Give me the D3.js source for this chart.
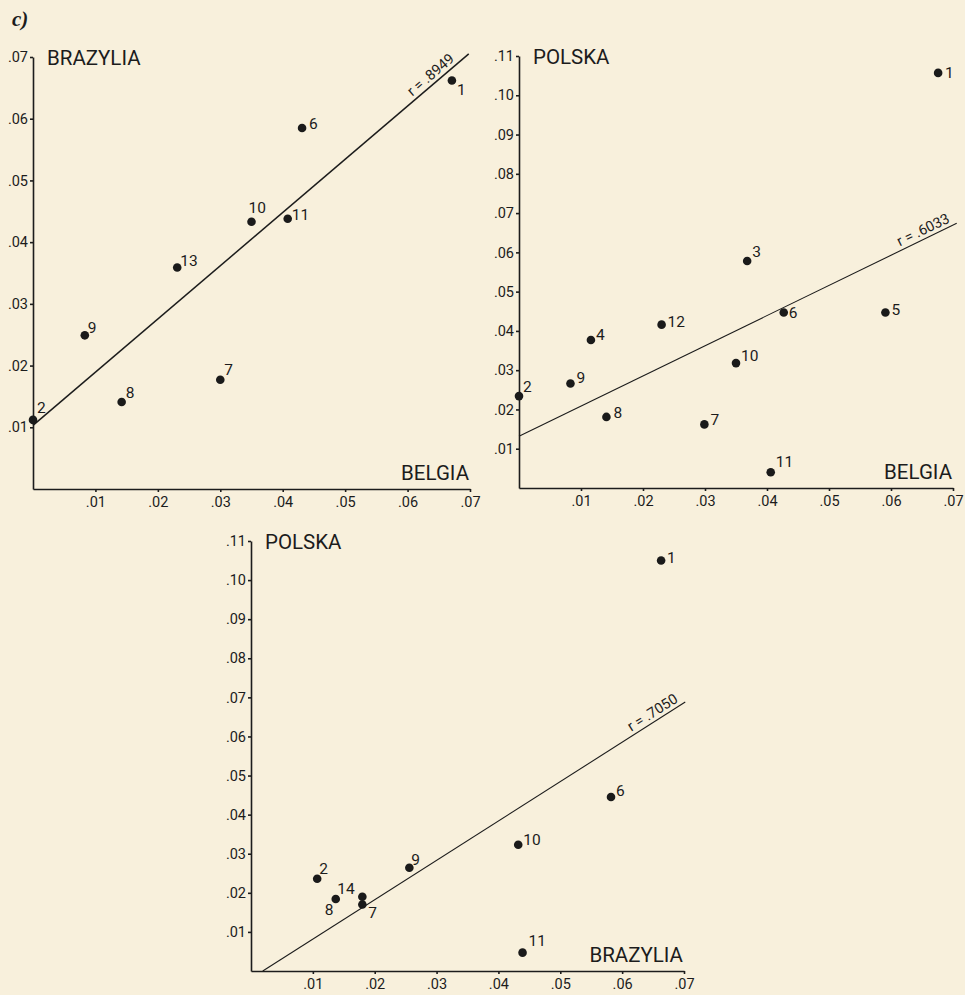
<!DOCTYPE html>
<html>
<head>
<meta charset="utf-8">
<script src="https://cdn.jsdelivr.net/npm/d3@7"></script>
<style>
  body { margin: 0; background: #f8f0dc; }
  svg { display: block; }
  text { font-family: Roboto, "DejaVu Sans", sans-serif; fill: #1c1c1c; }
</style>
</head>
<body>
<svg id="chart" width="965" height="995"></svg>
<script>
// --- data ---
// panel A: Belgia (x) vs Brazylia (y)
var labelsA = ["1", "2", "6", "7", "8", "9", "10", "11", "13"];
var belgiaA = [0.0671, 0.0000, 0.0431, 0.0300, 0.0142, 0.0083, 0.0350, 0.0408, 0.0231];
var brazyliaA = [0.0662, 0.0112, 0.0585, 0.0177, 0.0141, 0.0249, 0.0433, 0.0438, 0.0359];
var fitXA = [0.0000, 0.0698];
var fitYA = [0.0103, 0.0705];
var rA = "r = .8949";

// panel B: Belgia (x) vs Polska (y)
var labelsB = ["1", "2", "3", "4", "5", "6", "7", "8", "9", "10", "11", "12"];
var belgiaB = [0.0676, 0.0000, 0.0368, 0.0116, 0.0591, 0.0427, 0.0299, 0.0141, 0.0083, 0.0350, 0.0406, 0.0230];
var polskaB = [0.1057, 0.0234, 0.0578, 0.0377, 0.0447, 0.0447, 0.0162, 0.0181, 0.0266, 0.0318, 0.0040, 0.0416];
var fitXB = [0.0000, 0.0706];
var fitYB = [0.0132, 0.0674];
var rB = "r = .6033";

// panel C: Brazylia (x) vs Polska (y)
var labelsC = ["1", "2", "6", "7", "8", "9", "10", "11", "14"];
var brazyliaC = [0.0663, 0.0107, 0.0582, 0.0180, 0.0137, 0.0256, 0.0432, 0.0439, 0.0180];
var polskaC = [0.1050, 0.0236, 0.0445, 0.0170, 0.0184, 0.0264, 0.0323, 0.0047, 0.0190];
var fitXC = [0.0019, 0.0702];
var fitYC = [0.0000, 0.0688];
var rC = "r = .7050";

var xTicks = [0.01, 0.02, 0.03, 0.04, 0.05, 0.06, 0.07];
var yTicksA = [0.01, 0.02, 0.03, 0.04, 0.05, 0.06, 0.07];
var yTicksBC = [0.01, 0.02, 0.03, 0.04, 0.05, 0.06, 0.07, 0.08, 0.09, 0.10, 0.11];

// label placement (dx, dy from the dot)
var offA = { "1": [5, 15], "2": [4, -7], "6": [7, 1], "7": [4, -5], "8": [4, -4], "9": [3, -2], "10": [-3, -9], "11": [4, 1], "13": [3, -1] };
var offB = { "1": [7, 5], "2": [4, -4], "3": [5, -4], "4": [5, 0], "5": [6, 3], "6": [5, 6], "7": [6, 1], "8": [7, 1], "9": [6, -1], "10": [5, -2], "11": [5, -5], "12": [6, 2] };
var offC = { "1": [6, 2], "2": [2, -5], "6": [5, -1], "7": [6, 13], "8": [-11, 16], "9": [2, -3], "10": [5, 0], "11": [6, -7], "14": [-25, -3] };

var fmt = function (d) { return d3.format(".2f")(d).replace(/^0/, ""); };

var svg = d3.select("#chart");

svg.append("text")
  .attr("x", 12).attr("y", 26)
  .style("font-family", "'Liberation Serif', serif")
  .style("font-style", "italic").style("font-weight", "bold")
  .style("font-size", "21px")
  .text("c)");

function panel(cfg) {
  var x = d3.scaleLinear().domain([0, 0.07]).range(cfg.xr);
  var y = d3.scaleLinear().domain([0, cfg.ymax]).range(cfg.yr);
  var g = svg.append("g");

  var ax = g.append("g")
    .attr("transform", "translate(0," + cfg.yr[0] + ")")
    .call(d3.axisBottom(x).tickValues(xTicks).tickFormat(fmt).tickSize(3).tickSizeOuter(0).tickPadding(5));
  var ay = g.append("g")
    .attr("transform", "translate(" + cfg.xr[0] + ",0)")
    .call(d3.axisLeft(y).tickValues(cfg.yTicks).tickFormat(fmt).tickSize(3).tickSizeOuter(0).tickPadding(2));
  [ax, ay].forEach(function (a) {
    a.selectAll("path, line").attr("stroke", "#1c1c1c").attr("stroke-width", 1.6);
    a.selectAll("text").style("font-size", "14.5px").style("font-family", "Roboto, sans-serif")
      .style("font-weight", 400).attr("fill", "#262626");
  });

  // axis titles
  g.append("text").attr("x", cfg.xr[0] + 14).attr("y", cfg.yr[1] + 8)
    .style("font-size", "20.5px").text(cfg.yName);
  g.append("text").attr("x", cfg.xr[1] - 1).attr("y", cfg.yr[0] - 9)
    .attr("text-anchor", "end").style("font-size", "20.5px").text(cfg.xName);

  // regression line
  var x1 = x(cfg.fx[0]), y1 = y(cfg.fy[0]), x2 = x(cfg.fx[1]), y2 = y(cfg.fy[1]);
  g.append("line").attr("x1", x1).attr("y1", y1).attr("x2", x2).attr("y2", y2)
    .attr("stroke", "#1c1c1c").attr("stroke-width", cfg.lw);
  var ang = Math.atan2(y2 - y1, x2 - x1) * 180 / Math.PI;
  var t = cfg.rAt;
  g.append("text")
    .attr("transform", "translate(" + (x1 + (x2 - x1) * t) + "," + (y1 + (y2 - y1) * t) + ") rotate(" + ang + ")")
    .attr("text-anchor", "end").attr("dy", -4)
    .style("font-size", "14.5px").text(cfg.r);

  // points
  var pts = cfg.labels.map(function (l, i) { return { l: l, x: cfg.xs[i], y: cfg.ys[i] }; });
  g.selectAll("circle").data(pts).enter().append("circle")
    .attr("cx", function (d) { return x(d.x); })
    .attr("cy", function (d) { return y(d.y); })
    .attr("r", 4.3).attr("fill", "#1a1a1a");
  g.selectAll("text.lab").data(pts).enter().append("text").attr("class", "lab")
    .attr("x", function (d) { return x(d.x) + cfg.off[d.l][0]; })
    .attr("y", function (d) { return y(d.y) + cfg.off[d.l][1]; })
    .style("font-size", "15.5px")
    .text(function (d) { return d.l; });
}

panel({ xr: [33, 470], yr: [489, 57], ymax: 0.07, yTicks: yTicksA, xName: "BELGIA", yName: "BRAZYLIA",
  labels: labelsA, xs: belgiaA, ys: brazyliaA, off: offA, fx: fitXA, fy: fitYA, r: rA, lw: 1.5, rAt: 0.975 });
panel({ xr: [519, 953], yr: [488, 56], ymax: 0.11, yTicks: yTicksBC, xName: "BELGIA", yName: "POLSKA",
  labels: labelsB, xs: belgiaB, ys: polskaB, off: offB, fx: fitXB, fy: fitYB, r: rB, lw: 1.1, rAt: 0.99 });
panel({ xr: [251, 684], yr: [971, 541], ymax: 0.11, yTicks: yTicksBC, xName: "BRAZYLIA", yName: "POLSKA",
  labels: labelsC, xs: brazyliaC, ys: polskaC, off: offC, fx: fitXC, fy: fitYC, r: rC, lw: 1.1, rAt: 0.99 });
</script>
</body>
</html>
